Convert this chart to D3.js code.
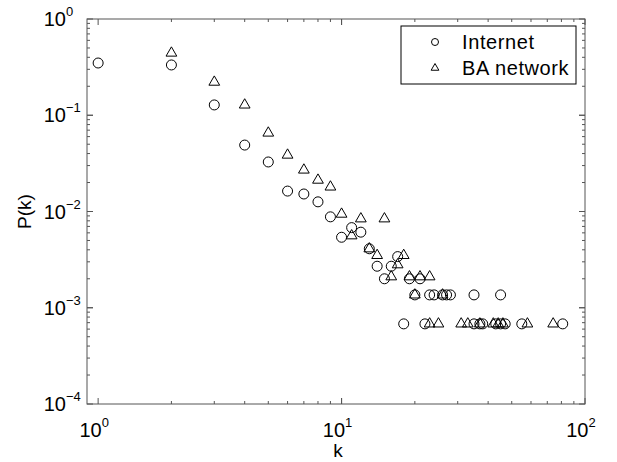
<!doctype html>
<html>
  <head>
    <script src="https://d3js.org/d3.v7.min.js"></script>
    <style>
      body { margin: 0; background: #fff; }
      text { font-family: "Liberation Sans", Arial, sans-serif; fill: #000; }
    </style>
  </head>
  <body>
    <svg id="chart" width="617" height="462"></svg>
    <script>
      // degree distribution
      var internetK = [1, 2, 3, 4, 5, 6, 7, 8, 9, 10, 11, 12, 13, 14, 15, 16, 17, 18, 19, 20, 21,
                       22, 23, 24, 26, 27, 28, 35, 35, 37, 38, 43, 45, 45, 47, 55, 81];
      var internetP = [0.349, 0.333, 0.128, 0.049, 0.0327, 0.0163, 0.0152, 0.0126, 0.0088, 0.0054, 0.0068,
                       0.0061, 0.0041, 0.0027, 0.0020, 0.0027, 0.0034, 0.00068, 0.0020, 0.00136, 0.0020,
                       0.00068, 0.00136, 0.00136, 0.00136, 0.00136, 0.00136, 0.00136, 0.00068, 0.00068, 0.00068,
                       0.00068, 0.00136, 0.00068, 0.00068, 0.00068, 0.00068];
      var baK = [2, 3, 4, 5, 6, 7, 8, 9, 10, 11, 12, 13, 14, 15, 16, 17, 18, 19, 20, 21, 23, 26,
                 23, 25, 31, 33, 37, 42, 44, 46, 58, 74];
      var baP = [0.443, 0.221, 0.128, 0.0654, 0.0386, 0.027, 0.0212, 0.018, 0.0094, 0.0056, 0.0084,
                 0.0041, 0.0035, 0.0084, 0.0021, 0.0028, 0.0035, 0.0021, 0.00136, 0.0021, 0.0021, 0.00136,
                 0.00068, 0.00068, 0.00068, 0.00068, 0.00068, 0.00068, 0.00068, 0.00068, 0.00068, 0.00068];
      var xTicks = [1, 10, 100];
      var yTicks = [1e-4, 1e-3, 1e-2, 1e-1, 1];
      var seriesNames = ["Internet", "BA network"];

      var svg = d3.select("#chart");
      var pLeft = 87, pRight = 585, pTop = 19, pBottom = 404;
      var axisColor = "#555";

      var x = d3.scaleLog().domain([0.9, 100]).range([pLeft, pRight]);
      var y = d3.scaleLog().domain([1e-4, 1]).range([pBottom, pTop]);

      // frame
      svg.append("rect")
        .attr("x", pLeft).attr("y", pTop)
        .attr("width", pRight - pLeft).attr("height", pBottom - pTop)
        .attr("fill", "none").attr("stroke", axisColor).attr("stroke-width", 1);

      // ticks on all four sides, pointing inward
      var g = svg.append("g").attr("stroke", axisColor).attr("stroke-width", 1);
      [1, 10].forEach(function(t) {
        d3.range(1, 11).forEach(function(m) {
          var v = t * m;
          var len = m === 1 || m === 10 ? 6 : 3;
          var px = x(v);
          g.append("line").attr("x1", px).attr("x2", px).attr("y1", pBottom).attr("y2", pBottom - len);
          g.append("line").attr("x1", px).attr("x2", px).attr("y1", pTop).attr("y2", pTop + len);
        });
      });
      yTicks.slice(0, -1).forEach(function(t) {
        d3.range(1, 11).forEach(function(m) {
          var v = t * m;
          var len = m === 1 || m === 10 ? 6 : 3;
          var py = y(v);
          g.append("line").attr("x1", pLeft).attr("x2", pLeft + len).attr("y1", py).attr("y2", py);
          g.append("line").attr("x1", pRight).attr("x2", pRight - len).attr("y1", py).attr("y2", py);
        });
      });

      // tick labels with superscripts
      xTicks.forEach(function(v) {
        var t = svg.append("text")
          .attr("x", x(v) - 4).attr("y", 437)
          .attr("text-anchor", "middle").style("font-size", "20px");
        t.append("tspan").text("10");
        t.append("tspan").attr("dy", -10).style("font-size", "13px").text(Math.round(Math.log10(v)));
      });
      yTicks.forEach(function(v) {
        svg.append("text")
          .attr("x", 66).attr("y", y(v) + 7)
          .attr("text-anchor", "end").style("font-size", "20px").text("10");
        var e = Math.round(Math.log10(v));
        svg.append("text")
          .attr("x", 66).attr("y", y(v) - 3)
          .style("font-size", "13px").text(e === 0 ? "0" : "\u2212" + Math.abs(e));
      });

      // axis titles
      svg.append("text").attr("x", 338).attr("y", 457)
        .attr("text-anchor", "middle").style("font-size", "19px").text("k");
      svg.append("text")
        .attr("transform", "translate(31," + ((pTop + pBottom) / 2) + ") rotate(-90)")
        .attr("text-anchor", "middle").style("font-size", "19px").text("P(k)");

      // markers
      var tri = d3.symbol().type(d3.symbolTriangle).size(50);
      svg.append("g").selectAll("circle")
        .data(internetK.map(function(k, i) { return [k, internetP[i]]; }))
        .enter().append("circle")
        .attr("cx", function(d) { return x(d[0]); })
        .attr("cy", function(d) { return y(d[1]); })
        .attr("r", 5)
        .attr("fill", "none").attr("stroke", "#000").attr("stroke-width", 1);
      svg.append("g").selectAll("path")
        .data(baK.map(function(k, i) { return [k, baP[i]]; }))
        .enter().append("path")
        .attr("d", tri)
        .attr("transform", function(d) { return "translate(" + x(d[0]) + "," + y(d[1]) + ")"; })
        .attr("fill", "none").attr("stroke", "#000").attr("stroke-width", 1);

      // legend
      var lg = svg.append("g");
      lg.append("rect").attr("x", 401).attr("y", 26).attr("width", 175).attr("height", 58)
        .attr("fill", "#fff").attr("stroke", "#000").attr("stroke-width", 1);
      lg.append("circle").attr("cx", 435).attr("cy", 42).attr("r", 3.5)
        .attr("fill", "none").attr("stroke", "#000");
      lg.append("path").attr("d", d3.symbol().type(d3.symbolTriangle).size(26))
        .attr("transform", "translate(435,68)")
        .attr("fill", "none").attr("stroke", "#000");
      lg.selectAll("text.leg").data(seriesNames).enter().append("text")
        .attr("class", "leg")
        .attr("x", 462).attr("y", function(d, i) { return 49 + i * 26; })
        .style("font-size", "20px").style("letter-spacing", "0.6px")
        .text(function(d) { return d; });
    </script>
  </body>
</html>
